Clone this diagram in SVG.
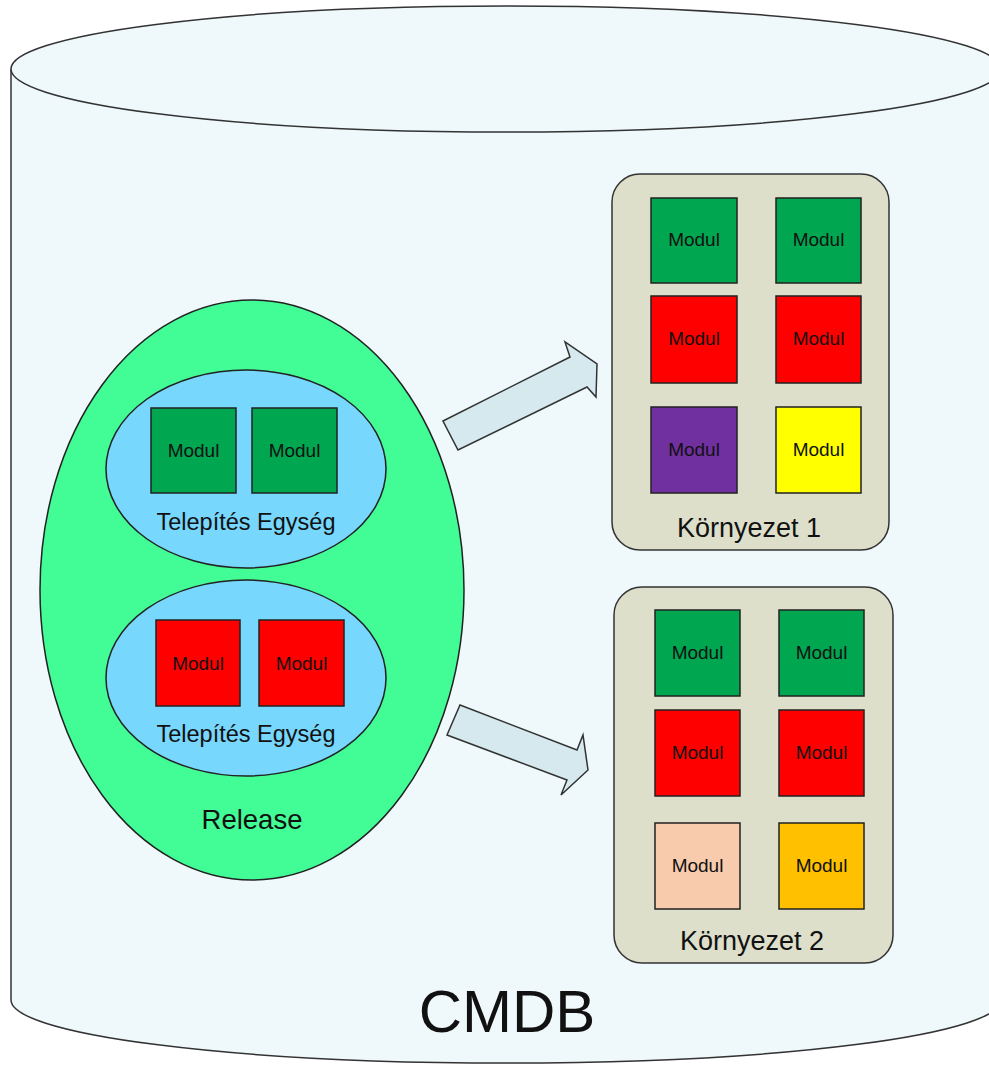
<svg xmlns="http://www.w3.org/2000/svg" width="989" height="1065" viewBox="0 0 989 1065">
<style>
.cyl{fill:#eff8fb;stroke:#333;stroke-width:1.5}
.mod{stroke:#222;stroke-width:1.5}
.g{fill:#00a650}.r{fill:#ff0000}.p{fill:#7030a0}.y{fill:#ffff00}.pe{fill:#f8cbad}.o{fill:#ffc000}
.mt{font-family:"Liberation Sans",Arial,sans-serif;font-size:19px;fill:#111;text-anchor:middle}
.lt{font-family:"Liberation Sans",Arial,sans-serif;fill:#111;text-anchor:middle}
.env{fill:#dddfcb;stroke:#333;stroke-width:1.5}
.te{fill:#77d7fd;stroke:#222;stroke-width:1.5}
.arr{fill:#d5e9ef;stroke:#333;stroke-width:1.5;stroke-linejoin:miter}
</style>
<rect width="989" height="1065" fill="#ffffff"/>
<g id="cmdb">
<path class="cyl" d="M 11 70 L 11 1000 A 495 63 0 0 0 1001 1000 L 1001 70 Z"/>
<ellipse class="cyl" cx="506" cy="69" rx="495" ry="63"/>
<text class="lt" x="507" y="1032" font-size="60">CMDB</text>
</g>
<g id="release">
<ellipse cx="252" cy="590" rx="212" ry="290" fill="#42fc96" stroke="#222" stroke-width="1.5"/>
<text class="lt" x="252" y="829" font-size="27.5">Release</text>
</g>
<g id="te1">
<ellipse class="te" cx="246" cy="469" rx="140" ry="99"/>
<rect class="mod g" x="151" y="408" width="85" height="85"/>
<text class="mt" x="193.5" y="457">Modul</text>
<rect class="mod g" x="252" y="408" width="85" height="85"/>
<text class="mt" x="294.5" y="457">Modul</text>
<text class="lt" x="246" y="530" font-size="23.5">Telepítés Egység</text>
</g>
<g id="te2">
<ellipse class="te" cx="246" cy="678" rx="140" ry="98"/>
<rect class="mod r" x="156" y="620" width="84" height="86"/>
<text class="mt" x="198" y="670">Modul</text>
<rect class="mod r" x="259" y="620" width="85" height="86"/>
<text class="mt" x="301.5" y="670">Modul</text>
<text class="lt" x="246" y="742" font-size="23.5">Telepítés Egység</text>
</g>
<g id="env1">
<rect class="env" x="612" y="174" width="277" height="376" rx="28"/>
<rect class="mod g" x="651" y="198" width="86" height="85"/>
<text class="mt" x="694" y="246">Modul</text>
<rect class="mod g" x="776" y="198" width="85" height="85"/>
<text class="mt" x="818.5" y="246">Modul</text>
<rect class="mod r" x="651" y="296" width="86" height="87"/>
<text class="mt" x="694" y="345">Modul</text>
<rect class="mod r" x="776" y="296" width="85" height="87"/>
<text class="mt" x="818.5" y="345">Modul</text>
<rect class="mod p" x="651" y="407" width="86" height="86"/>
<text class="mt" x="694" y="456">Modul</text>
<rect class="mod y" x="776" y="407" width="85" height="86"/>
<text class="mt" x="818.5" y="456">Modul</text>
<text class="lt" x="749" y="537" font-size="27">Környezet 1</text>
</g>
<g id="env2">
<rect class="env" x="614" y="587" width="279" height="376" rx="28"/>
<rect class="mod g" x="655" y="610" width="85" height="86"/>
<text class="mt" x="697.5" y="659">Modul</text>
<rect class="mod g" x="779" y="610" width="85" height="86"/>
<text class="mt" x="821.5" y="659">Modul</text>
<rect class="mod r" x="655" y="710" width="85" height="86"/>
<text class="mt" x="697.5" y="759">Modul</text>
<rect class="mod r" x="779" y="710" width="85" height="86"/>
<text class="mt" x="821.5" y="759">Modul</text>
<rect class="mod pe" x="655" y="823" width="85" height="86"/>
<text class="mt" x="697.5" y="872">Modul</text>
<rect class="mod o" x="779" y="823" width="85" height="86"/>
<text class="mt" x="821.5" y="872">Modul</text>
<text class="lt" x="752" y="950" font-size="27">Környezet 2</text>
</g>
<g id="connectors">
<polygon class="arr" points="443,421 570,357 565,342 597,364 596,397 587,387 458,450"/>
<polygon class="arr" points="460,705 577,750 583,735 588,770 561,795 567,780 447,735"/>
</g>
</svg>
